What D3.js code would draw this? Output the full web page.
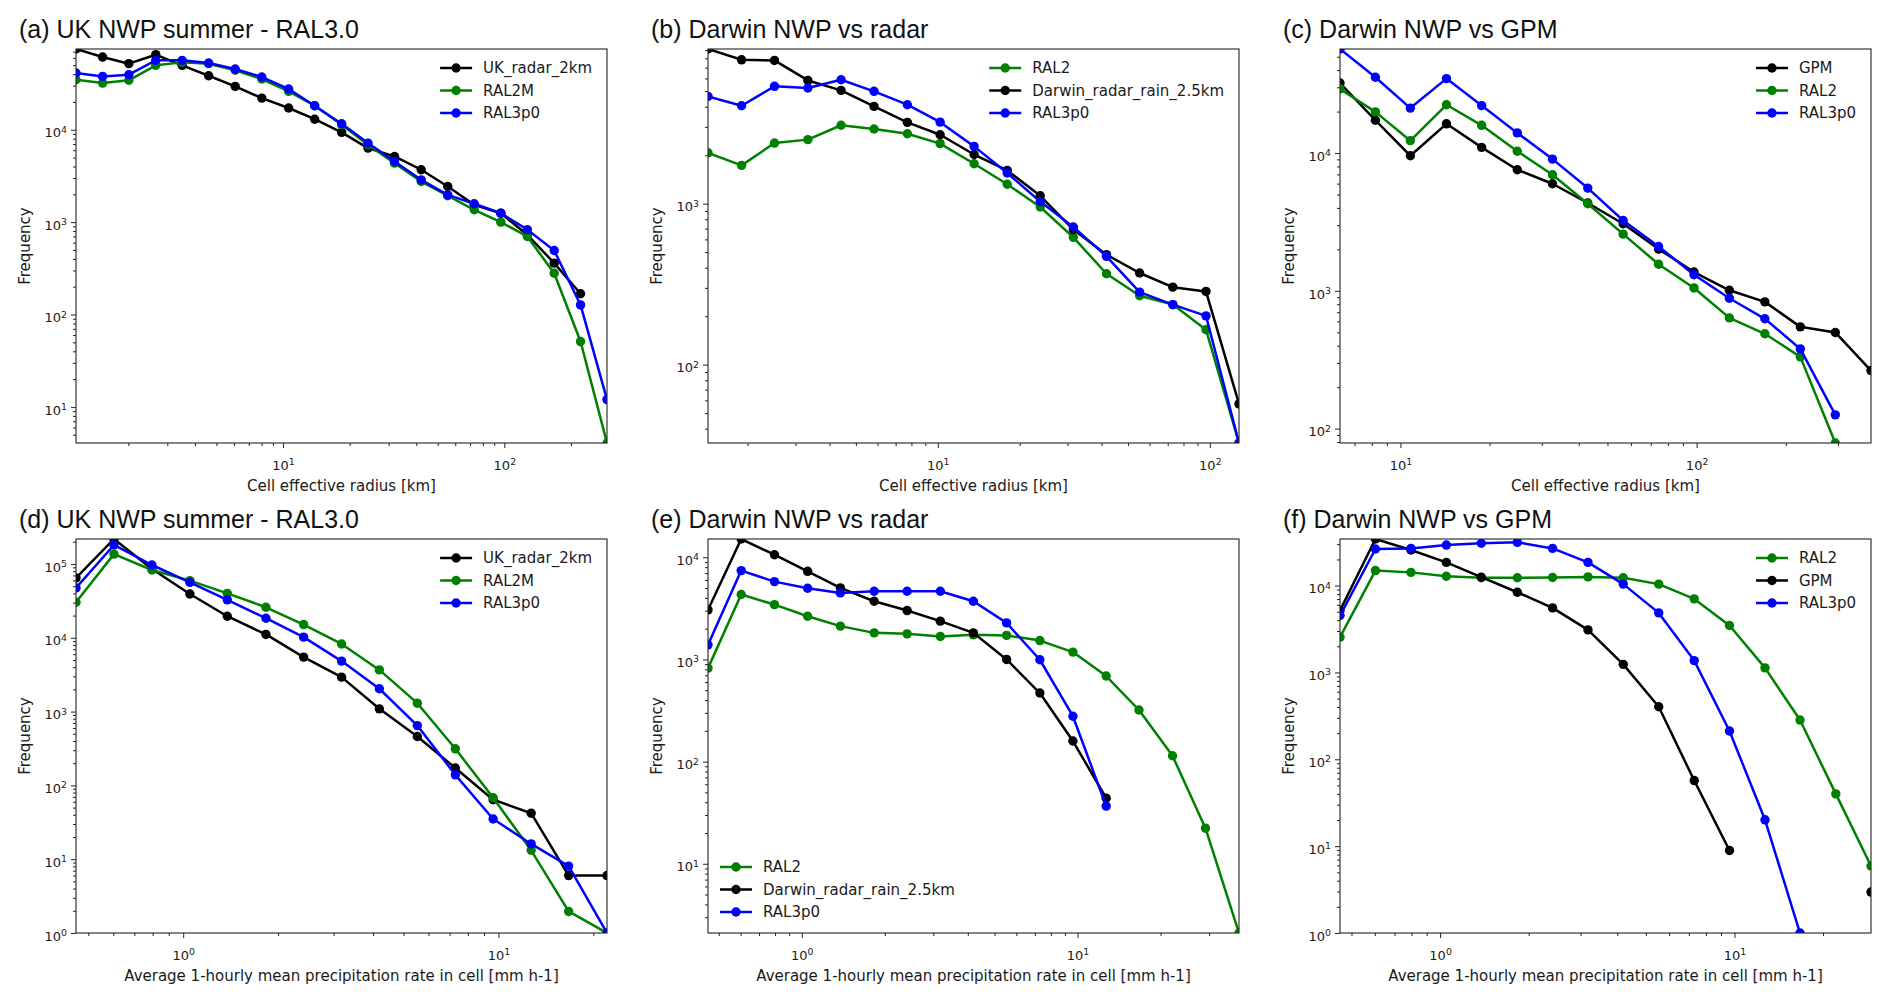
<!DOCTYPE html>
<html>
<head>
<meta charset="utf-8">
<script src="https://cdn.jsdelivr.net/npm/d3@7"></script>
<style>
  body { margin: 0; background: #fff; }
  svg { display: block; }
</style>
</head>
<body>
<div id="chart"></div>
<script>
// cell effective radius bins [km]
const radiusBinsUK = [1.16, 1.53, 2.01, 2.66, 3.50, 4.61, 6.08, 8.02, 10.6, 13.9, 18.4, 24.2, 31.9, 42.1, 55.5, 73.1, 96.4, 127, 168, 221, 291]
const radiusBinsDarwin = [1.43, 1.90, 2.51, 3.33, 4.41, 5.83, 7.73, 10.2, 13.6, 18.0, 23.8, 31.5, 41.7, 55.2, 73.1, 96.8, 128]
const radiusBinsGPM = [6.25, 8.23, 10.8, 14.3, 18.8, 24.8, 32.6, 42.9, 56.5, 74.4, 98.0, 129, 170, 224, 294, 388]
// mean precipitation rate bins [mm h-1]
const rateBins = [0.457, 0.603, 0.796, 1.05, 1.38, 1.83, 2.41, 3.18, 4.19, 5.53, 7.30, 9.62, 12.7, 16.7, 22.1, 29.1, 38.5]

// (a) UK, radius
const ukRadarRadius = [74800, 61200, 51900, 64900, 49800, 38400, 29500, 22000, 17200, 13000, 9360, 6330, 5140, 3690, 2430, 1540, 1250, 730, 360, 168]
const ral2mRadius = [34800, 32000, 34300, 49800, 53600, 51900, 44000, 35400, 26000, 18200, 11300, 6880, 4350, 2750, 1930, 1360, 1000, 700, 280, 51, 4.07]
const ral3UkRadius = [41100, 37800, 39400, 56400, 56400, 52800, 45400, 37200, 27600, 18200, 11600, 7170, 4540, 2870, 1970, 1580, 1250, 830, 493, 127, 12]
// (b) Darwin vs radar, radius
const darwinRadarRadius = [9140, 7830, 7760, 5830, 5060, 4020, 3200, 2680, 2020, 1610, 1120, 690, 482, 371, 303, 285, 57]
const ral2RadarRadius = [2070, 1730, 2380, 2500, 3070, 2910, 2720, 2360, 1770, 1320, 953, 618, 367, 268, 236, 165, 32.6]
const ral3RadarRadius = [4640, 4060, 5360, 5230, 5890, 4990, 4120, 3210, 2270, 1550, 1030, 716, 471, 282, 236, 201, 32.6]
// (c) Darwin vs GPM, radius
const gpmRadius = [32200, 17300, 9560, 16300, 11000, 7570, 5990, 4340, 3070, 2010, 1370, 1010, 832, 548, 499, 264]
const ral2GpmRadius = [29200, 19900, 12300, 22400, 15900, 10300, 6960, 4290, 2580, 1560, 1050, 637, 488, 332, 78.7]
const ral3GpmRadius = [56900, 35500, 21200, 34700, 22100, 14000, 9040, 5570, 3240, 2100, 1310, 884, 627, 379, 126]
// (d) UK, rate
const ukRadarRate = [64700, 218000, 85500, 39200, 19600, 11100, 5470, 2930, 1090, 459, 172, 64, 42, 6, 6]
const ral2mRate = [30300, 136000, 82900, 59500, 40000, 25900, 15100, 8250, 3670, 1300, 313, 68, 13.2, 1.96, 1]
const ral3UkRate = [47300, 181000, 96900, 56400, 32600, 18400, 10200, 4830, 2040, 646, 139, 35, 16.1, 8.06, 1]
// (e) Darwin vs radar, rate
const darwinRadarRate = [3060, 15100, 10600, 7290, 5010, 3710, 3010, 2370, 1820, 1000, 469, 159, 43.9]
const ral2RadarRate = [822, 4320, 3440, 2650, 2120, 1820, 1780, 1680, 1740, 1720, 1530, 1180, 688, 320, 114, 22.3, 2.1]
const ral3RadarRate = [1390, 7410, 5780, 4980, 4480, 4650, 4650, 4650, 3710, 2280, 993, 278, 36.7]
// (f) Darwin vs GPM, rate (null = empty bin)
const gpmRate = [5160, 34400, 25700, 18500, 12500, 8380, 5540, 3090, 1240, 403, 56.9, 8.9, null, null, null, 2.96]
const ral2GpmRate = [2550, 14900, 14200, 12800, 12300, 12300, 12400, 12600, 12300, 10400, 7030, 3470, 1130, 283, 40, 5.9]
const ral3GpmRate = [4520, 26400, 26800, 29300, 30700, 31500, 26800, 18500, 10400, 4850, 1370, 212, 20.1, 1]

const titles = ['(a) UK NWP summer - RAL3.0', '(b) Darwin NWP vs radar', '(c) Darwin NWP vs GPM',
    '(d) UK NWP summer - RAL3.0', '(e) Darwin NWP vs radar', '(f) Darwin NWP vs GPM']
const radiusLabel = 'Cell effective radius [km]'
const rateLabel = 'Average 1-hourly mean precipitation rate in cell [mm h-1]'

const BLACK = '#000000'
const GREEN = '#008000'
const BLUE = '#0000ff'

const panels = [
    { bins: radiusBinsUK, xlabel: radiusLabel, legend: 'ur', series: [
        ['UK_radar_2km', BLACK, ukRadarRadius], ['RAL2M', GREEN, ral2mRadius], ['RAL3p0', BLUE, ral3UkRadius]] },
    { bins: radiusBinsDarwin, xlabel: radiusLabel, legend: 'ur', series: [
        ['RAL2', GREEN, ral2RadarRadius], ['Darwin_radar_rain_2.5km', BLACK, darwinRadarRadius], ['RAL3p0', BLUE, ral3RadarRadius]] },
    { bins: radiusBinsGPM, xlabel: radiusLabel, legend: 'ur', series: [
        ['GPM', BLACK, gpmRadius], ['RAL2', GREEN, ral2GpmRadius], ['RAL3p0', BLUE, ral3GpmRadius]] },
    { bins: rateBins, xlabel: rateLabel, legend: 'ur', series: [
        ['UK_radar_2km', BLACK, ukRadarRate], ['RAL2M', GREEN, ral2mRate], ['RAL3p0', BLUE, ral3UkRate]] },
    { bins: rateBins, xlabel: rateLabel, legend: 'll', series: [
        ['RAL2', GREEN, ral2RadarRate], ['Darwin_radar_rain_2.5km', BLACK, darwinRadarRate], ['RAL3p0', BLUE, ral3RadarRate]] },
    { bins: rateBins, xlabel: rateLabel, legend: 'ur', series: [
        ['RAL2', GREEN, ral2GpmRate], ['GPM', BLACK, gpmRate], ['RAL3p0', BLUE, ral3GpmRate]] },
]

const W = 1892, H = 1003
const colLeft = [76, 708, 1340]
const rowTop = [49, 539]
const pw = 531, ph = 394
const TICK_FONT = 'DejaVu Sans, sans-serif'
const TEXT = '#1a1a1a'

const svg = d3.select('#chart').append('svg').attr('width', W).attr('height', H)
    .style('background', '#fff')

function decades(domain) {
    const lo = Math.floor(Math.log10(domain[0]) - 1e-9), hi = Math.ceil(Math.log10(domain[1]) + 1e-9)
    const major = [], minor = []
    for (let k = lo; k <= hi; k++) {
        const b = Math.pow(10, k)
        if (b >= domain[0] * 0.9999 && b <= domain[1] * 1.0001) major.push(b)
        for (let m = 2; m <= 9; m++) {
            const v = m * b
            if (v >= domain[0] && v <= domain[1]) minor.push(v)
        }
    }
    return { major, minor }
}

function powerLabels(sel) {
    sel.each(function (d) {
        const t = d3.select(this)
        t.text(null)
        t.append('tspan').text('10')
        t.append('tspan').attr('dy', '-0.5em').attr('font-size', '0.72em').text(Math.round(Math.log10(d)))
    })
}

panels.forEach((p, k) => {
    const left = colLeft[k % 3], top = rowTop[Math.floor(k / 3)]
    const pts = p.series.map(s => s[2].map((v, i) => ({ x: p.bins[i], y: v })))
    const all = pts.flat().filter(d => d.y != null)
    const x = d3.scaleLog().domain(d3.extent(all, d => d.x)).range([0, pw])
    const y = d3.scaleLog().domain(d3.extent(all, d => d.y)).range([ph, 0])

    const g = svg.append('g').attr('transform', `translate(${left},${top})`)

    svg.append('defs').append('clipPath').attr('id', `clip-${k}`)
        .append('rect').attr('width', pw).attr('height', ph)

    // title
    g.append('text').attr('x', -57).attr('y', -11)
        .attr('font-family', 'Liberation Sans, Arial, sans-serif').attr('font-size', 25)
        .attr('fill', '#111').text(titles[k])

    // data
    const plot = g.append('g').attr('clip-path', `url(#clip-${k})`)
    const line = d3.line().defined(d => d.y != null).x(d => x(d.x)).y(d => y(d.y))
    p.series.forEach((s, j) => {
        const data = pts[j]
        plot.append('path').datum(data).attr('d', line)
            .attr('fill', 'none').attr('stroke', s[1]).attr('stroke-width', 2.5)
            .attr('stroke-linejoin', 'round')
        plot.selectAll(null).data(data.filter(d => d.y != null)).enter().append('circle')
            .attr('cx', d => x(d.x)).attr('cy', d => y(d.y)).attr('r', 4.7)
            .attr('fill', s[1])
    })

    // axes
    const xt = decades(x.domain()), yt = decades(y.domain())
    const xAxis = g.append('g').attr('transform', `translate(0,${ph})`)
    xAxis.append('g').call(d3.axisBottom(x).tickValues(xt.minor).tickSizeInner(3).tickSizeOuter(0).tickFormat(''))
    const xMaj = xAxis.append('g').call(d3.axisBottom(x).tickValues(xt.major).tickSizeInner(5).tickSizeOuter(0))
    xMaj.selectAll('.tick text').attr('y', 27).attr('dy', 0).call(powerLabels)

    const yAxis = g.append('g')
    yAxis.append('g').call(d3.axisLeft(y).tickValues(yt.minor).tickSizeInner(3).tickSizeOuter(0).tickFormat(''))
    const yMaj = yAxis.append('g').call(d3.axisLeft(y).tickValues(yt.major).tickSizeInner(5).tickSizeOuter(0))
    yMaj.selectAll('.tick text').attr('x', -9).attr('dy', '0.55em').call(powerLabels)

    g.selectAll('.domain').remove()
    g.selectAll('.tick line').attr('stroke', '#222').attr('stroke-width', 1)
    g.selectAll('.tick text').attr('font-family', TICK_FONT).attr('font-size', 13).attr('fill', TEXT)

    // frame
    g.append('rect').attr('width', pw).attr('height', ph)
        .attr('fill', 'none').attr('stroke', '#222').attr('stroke-width', 1.1)

    // axis labels
    g.append('text').attr('x', pw / 2).attr('y', ph + 48).attr('text-anchor', 'middle')
        .attr('font-family', TICK_FONT).attr('font-size', 15).attr('fill', TEXT).text(p.xlabel)
    g.append('text').attr('transform', `translate(-46,${ph / 2}) rotate(-90)`).attr('text-anchor', 'middle')
        .attr('font-family', TICK_FONT).attr('font-size', 15).attr('fill', TEXT).text('Frequency')

    // legend
    const lg = g.append('g').attr('font-family', TICK_FONT).attr('font-size', 15).attr('fill', TEXT)
    const labels = lg.selectAll(null).data(p.series).enter().append('text')
        .attr('dy', '0.36em').text(s => s[0])
    const tw = d3.max(labels.nodes(), n => n.getComputedTextLength())
    const textX = p.legend === 'ur' ? pw - 15 - tw : 55
    const rowY = p.legend === 'ur' ? [19, 41.5, 64] : [ph - 66, ph - 43.5, ph - 21]
    const x0 = textX - 43, x1 = textX - 11
    labels.attr('x', textX).attr('y', (s, i) => rowY[i])
    p.series.forEach((s, i) => {
        lg.append('line').attr('x1', x0).attr('x2', x1).attr('y1', rowY[i]).attr('y2', rowY[i])
            .attr('stroke', s[1]).attr('stroke-width', 2.5)
        lg.append('circle').attr('cx', (x0 + x1) / 2).attr('cy', rowY[i]).attr('r', 4.7).attr('fill', s[1])
    })
})
</script>
</body>
</html>
